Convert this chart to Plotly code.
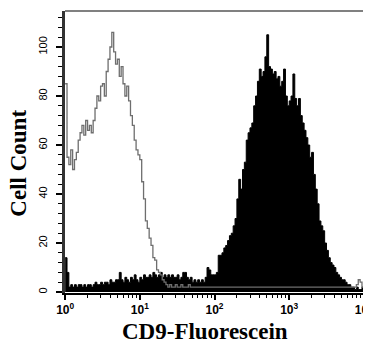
import numpy as np
import plotly.graph_objects as go

# log10 bin width of the histogram channels (4 decades)
bin_step = 0.025

# CD9-Fluorescein stained sample (black filled histogram)
stained_counts = [
    14, 8, 2, 3, 2, 3, 2, 3, 3, 2,
    3, 2, 3, 3, 2, 3, 4, 3, 3, 4,
    3, 4, 4, 3, 5, 4, 4, 5, 5, 8,
    5, 4, 6, 5, 4, 6, 5, 7, 5, 4,
    6, 5, 7, 6, 6, 7, 6, 8, 7, 6,
    7, 8, 6, 7, 6, 7, 6, 7, 6, 6,
    7, 5, 6, 8, 8, 6, 5, 6, 4, 5,
    4, 5, 4, 5, 4, 6, 10, 9, 7, 7,
    7, 8, 15, 15, 16, 18, 19, 21, 23, 24,
    27, 30, 38, 46, 42, 50, 53, 62, 65, 67,
    69, 76, 80, 86, 91, 88, 90, 96, 105, 92,
    91, 89, 90, 87, 88, 84, 86, 91, 80, 76,
    78, 80, 89, 79, 76, 79, 72, 69, 66, 63,
    60, 55, 57, 48, 42, 36, 29, 27, 25, 20,
    17, 14, 12, 11, 10, 8, 7, 6, 5, 5,
    4, 3, 3, 2, 2, 1, 2, 1, 1, 2,
]

# unstained control (grey outline histogram)
control_counts = [
    85, 55, 52, 58, 50, 54, 57, 62, 65, 68,
    64, 70, 66, 68, 65, 70, 75, 80, 78, 84,
    85, 80, 90, 95, 100, 106, 98, 93, 95, 88,
    92, 85, 80, 84, 78, 72, 68, 62, 58, 56,
    54, 45, 38, 29, 26, 22, 19, 14, 13, 9,
    8, 7, 5, 4, 3, 2, 3, 2, 2, 3,
    2, 2, 3, 2, 2, 2, 3, 2, 2, 2,
    2, 2, 2, 2, 2, 2, 2, 2, 2, 2,
    2, 2, 2, 2, 2, 2, 2, 2, 2, 2,
    2, 2, 2, 2, 2, 2, 2, 2, 2, 2,
    2, 2, 2, 2, 2, 2, 2, 2, 2, 2,
    2, 2, 2, 2, 2, 2, 2, 2, 2, 2,
    2, 2, 2, 2, 2, 2, 2, 2, 2, 2,
    2, 2, 2, 2, 2, 2, 2, 2, 2, 2,
    2, 2, 2, 2, 2, 2, 2, 2, 2, 2,
    2, 2, 2, 2, 2, 2, 3, 5, 4, 2,
]

x_tick_vals = [1, 10, 100, 1000, 10000]
x_tick_text = ["10<sup>0</sup>", "10<sup>1</sup>", "10<sup>2</sup>",
               "10<sup>3</sup>", "10<sup>4</sup>"]
y_tick_vals = [0, 20, 40, 60, 80, 100]
x_title = "CD9-Fluorescein"
y_title = "Cell Count"

n = len(stained_counts)
edges = 10 ** (np.arange(n + 1) * bin_step)
y_black = stained_counts + [stained_counts[-1]]
y_grey = control_counts + [control_counts[-1]]

fig = go.Figure()
fig.add_trace(go.Scatter(
    x=edges, y=y_black, mode="lines", line=dict(color="black", width=1, shape="hv"),
    fill="tozeroy", fillcolor="black", showlegend=False, hoverinfo="skip"))
fig.add_trace(go.Scatter(
    x=edges, y=y_grey, mode="lines", line=dict(color="#6e6e6e", width=1.3, shape="hv"),
    showlegend=False, hoverinfo="skip"))

minor_x = [m * 10 ** k for k in range(4) for m in range(2, 10)]

# the page body adds an 8px offset, so the figure is 8px smaller than the window
fig.update_layout(
    width=363, height=337,
    margin=dict(l=57, r=7, t=3, b=52),
    paper_bgcolor="white", plot_bgcolor="white",
    xaxis=dict(
        type="log", range=[-0.002, 4.002], showgrid=False, zeroline=False, automargin=False,
        showline=True, linecolor="black", linewidth=2,
        tickvals=x_tick_vals, ticktext=x_tick_text, ticklabeloverflow="allow",
        ticks="outside", ticklen=5, tickwidth=1.5, tickcolor="black",
        minor=dict(tickvals=minor_x, ticks="outside", ticklen=3, tickwidth=1, tickcolor="black"),
        tickfont=dict(family="Liberation Sans", size=12, color="black", weight="bold"),
    ),
    yaxis=dict(
        range=[-0.4, 114.7], showgrid=False, zeroline=False, automargin=False,
        showline=True, linecolor="#333333", linewidth=3,
        tickvals=y_tick_vals, tickangle=-90, ticklabelstandoff=5,
        ticks="outside", ticklen=6, tickwidth=2, tickcolor="black",
        minor=dict(dtick=4, ticks="outside", ticklen=4, tickwidth=1, tickcolor="black"),
        tickfont=dict(family="Liberation Sans", size=11, color="black"),
    ),
    shapes=[
        dict(type="line", xref="paper", yref="paper", x0=0, x1=1, y0=1, y1=1,
             line=dict(color="#808080", width=2)),
        dict(type="line", xref="paper", yref="paper", x0=1, x1=1, y0=0, y1=1,
             line=dict(color="black", width=2)),
    ],
    annotations=[
        dict(text=x_title, xref="paper", yref="paper", x=0.468, y=-0.138,
             xanchor="center", yanchor="middle", showarrow=False,
             font=dict(family="Liberation Serif", size=23, color="black", weight="bold")),
        dict(text=y_title, xref="paper", yref="paper", x=-0.155, y=0.461,
             xanchor="center", yanchor="middle", textangle=-90, showarrow=False,
             font=dict(family="Liberation Serif", size=23, color="black", weight="bold")),
    ],
)

fig.write_html("out.html")
